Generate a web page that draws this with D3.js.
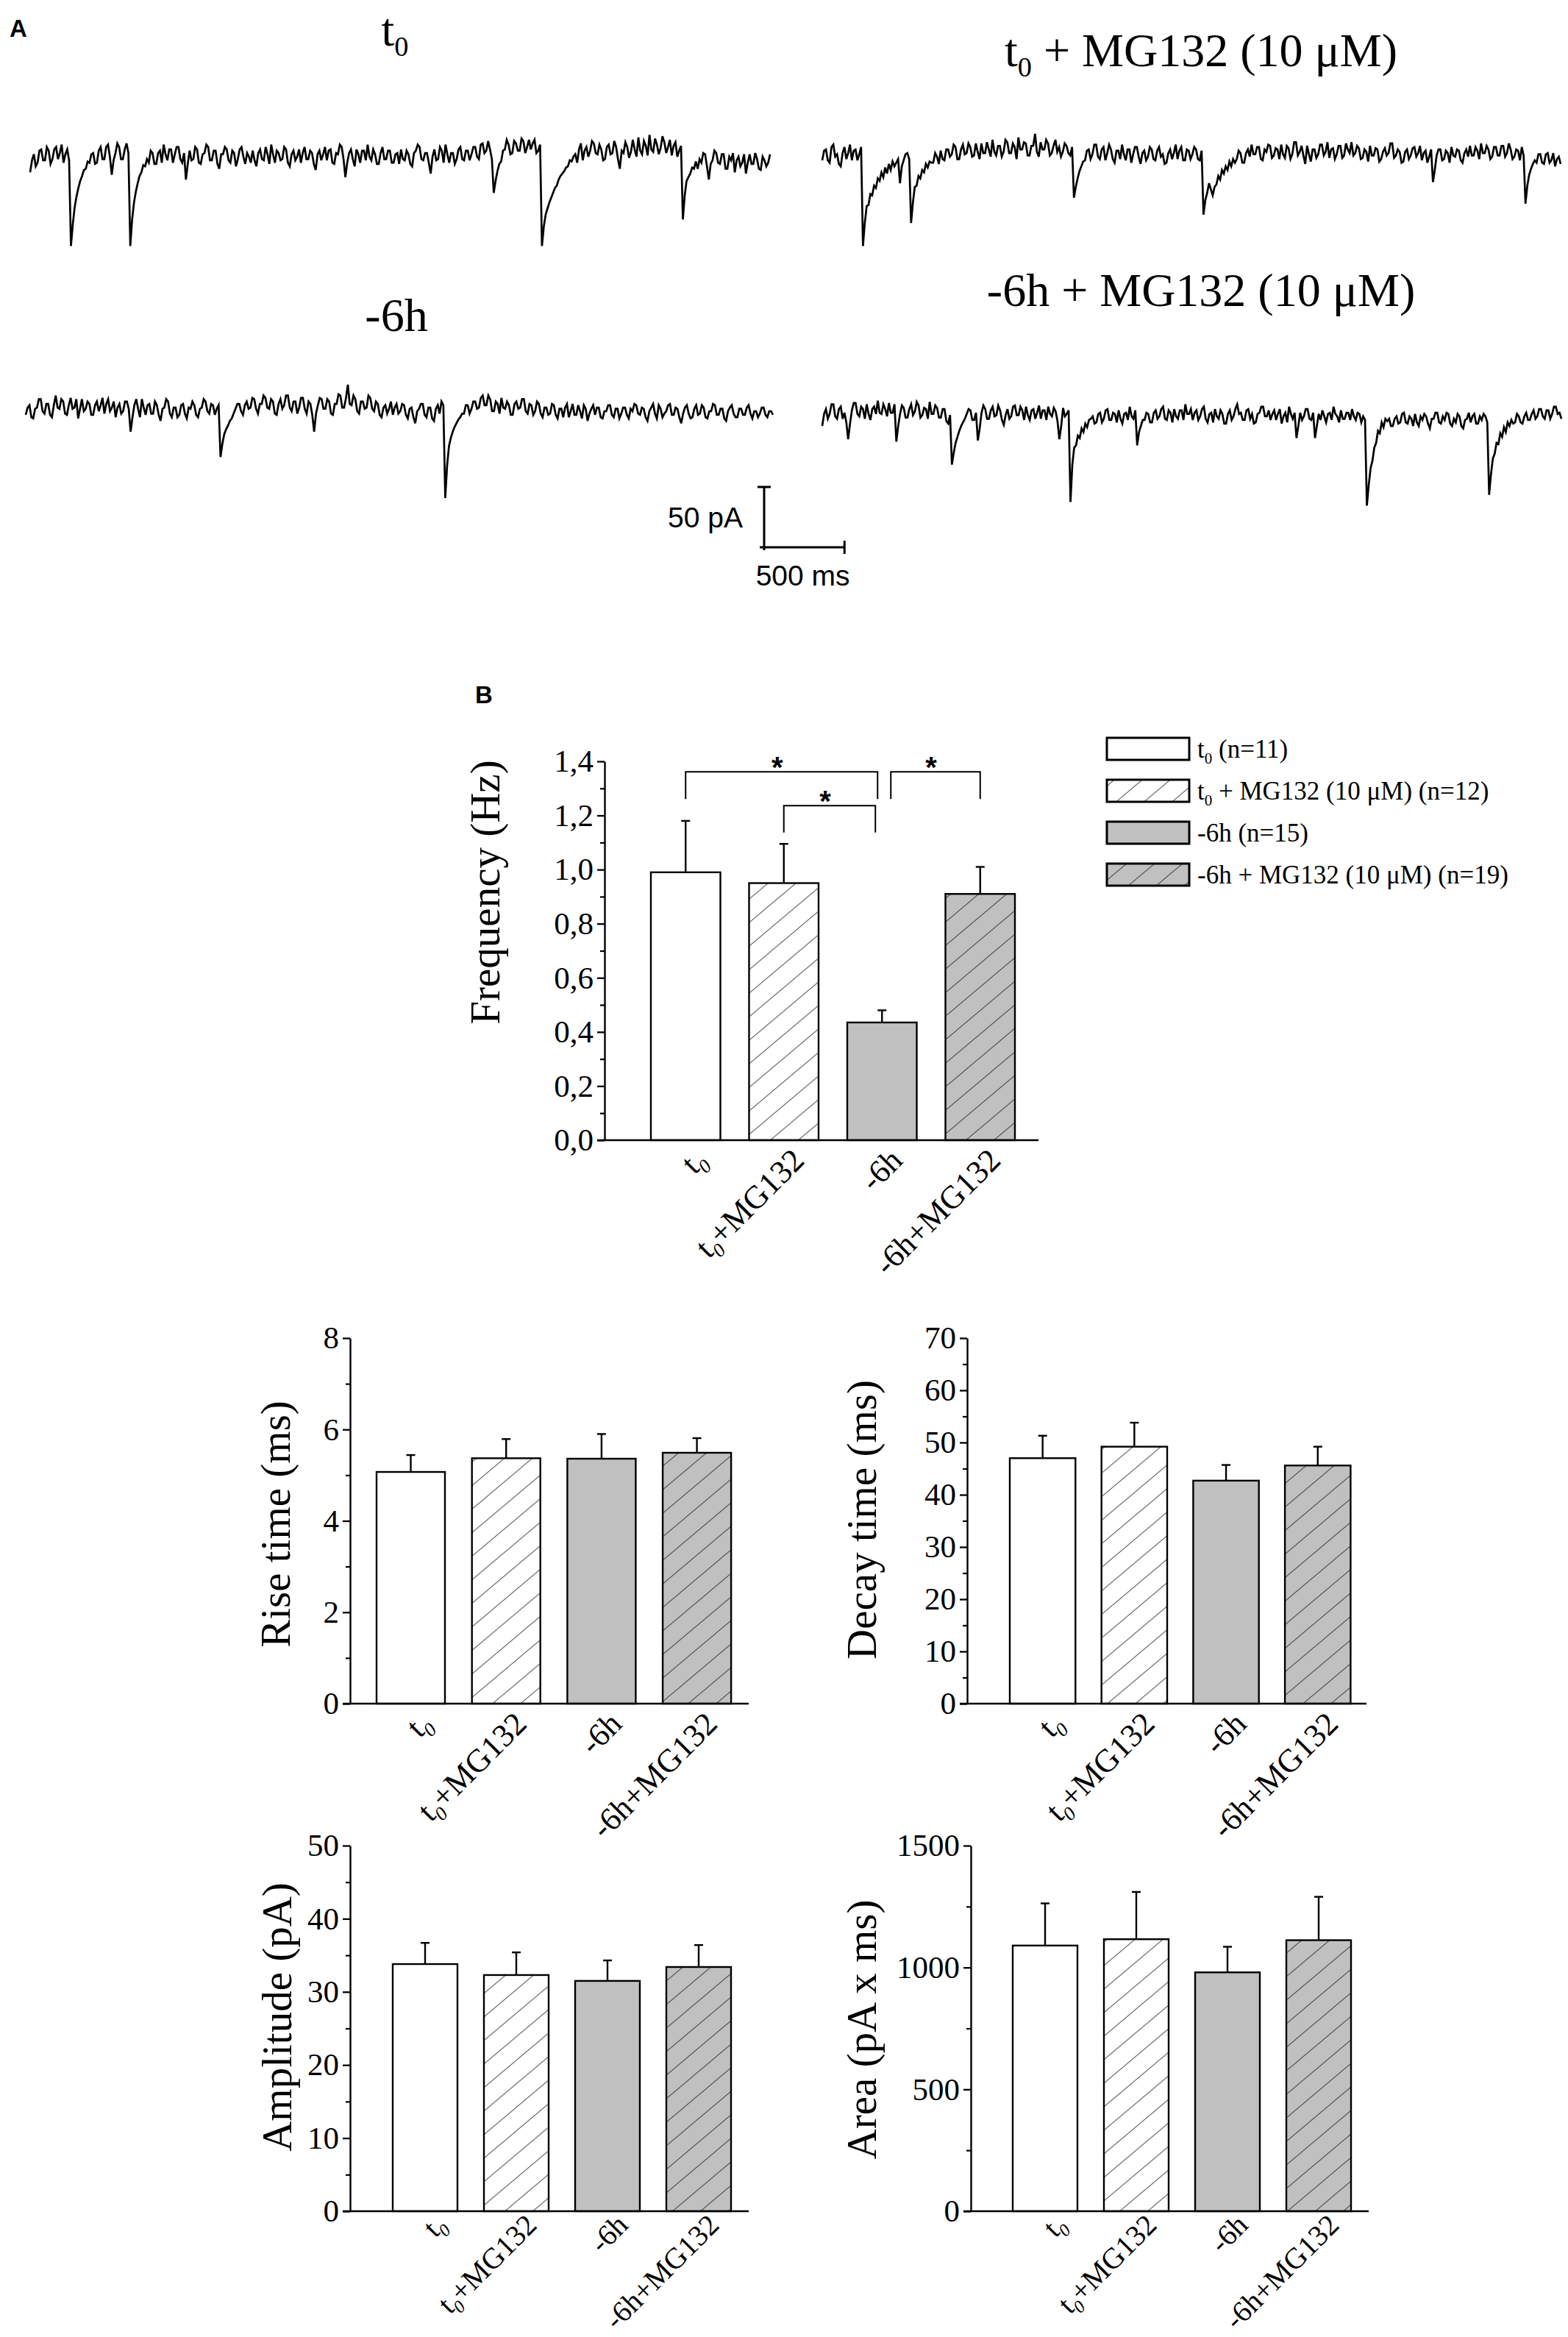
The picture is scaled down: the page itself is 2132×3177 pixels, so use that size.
<!DOCTYPE html>
<html><head><meta charset="utf-8">
<script src="https://cdn.jsdelivr.net/npm/d3@7"></script>
<style>html,body{margin:0;padding:0;background:#fff;} svg{display:block;}</style>
</head><body>
<svg id="fig" width="2132" height="3177"></svg>
<script>
// ---------- DATA ----------
const categories = ["t0", "t0+MG132", "-6h", "-6h+MG132"];
const legendLabels = ["t0 (n=11)", "t0 + MG132 (10 μM) (n=12)", "-6h (n=15)", "-6h + MG132 (10 μM) (n=19)"];
const traceTitles = ["t0", "t0 + MG132 (10 μM)", "-6h", "-6h + MG132 (10 μM)"];

const freqMean = [0.99, 0.95, 0.435, 0.91];
const freqSEM  = [0.19, 0.145, 0.045, 0.10];
const riseMean = [5.07, 5.37, 5.36, 5.49];
const riseSEM  = [0.37, 0.42, 0.54, 0.32];
const decayMean = [47.0, 49.2, 42.7, 45.6];
const decaySEM  = [4.3, 4.6, 3.0, 3.6];
const ampMean = [33.8, 32.3, 31.5, 33.4];
const ampSEM  = [2.9, 3.1, 2.8, 3.0];
const areaMean = [1090, 1116, 980, 1112];
const areaSEM  = [173, 194, 105, 178];

const freqTicks = [0, 0.2, 0.4, 0.6, 0.8, 1.0, 1.2, 1.4];
const freqMinor = [0.1, 0.3, 0.5, 0.7, 0.9, 1.1, 1.3];
const riseTicks = [0, 2, 4, 6, 8];
const riseMinor = [1, 3, 5, 7];
const decayTicks = [0, 10, 20, 30, 40, 50, 60, 70];
const decayMinor = [5, 15, 25, 35, 45, 55, 65];
const ampTicks = [0, 10, 20, 30, 40, 50];
const ampMinor = [5, 15, 25, 35, 45];
const areaTicks = [0, 500, 1000, 1500];
const areaMinor = [250, 750, 1250];

// significance brackets (frequency): from bar, to bar, bracket level, leg end level, label
const sigFrom  = [0, 1, 2];
const sigTo    = [2, 2, 3];
const sigLevel = [1.361, 1.236, 1.361];
const sigLeg   = [1.261, 1.137, 1.261];
const sigText  = ["*", "*", "*"];

// sEPSC traces (pA, relative to baseline), equally spaced samples over traceDurationMs
const traceDurationMs = 4650;
const scaleBarPA = 50, scaleBarMs = 500;
const traceT0 = [
 -13,-3,2,-8,-5,5,6,-3,-3,8,5,-6,-2,6,8,-2,3,10,-5,2,6,-3,-74,-56,-42,-33,-26,-20,-16,-11,-10,-4,-5,2,3,-6,-5,5,8,-2,
 -2,8,10,0,-15,-3,3,11,8,-2,-2,6,11,3,-74,-52,-38,-29,-22,-16,-13,-7,-8,-2,-5,5,3,-6,-6,3,5,-5,10,2,-3,6,6,-5,2,8,
 8,-2,-5,3,-19,-6,5,-3,-2,8,6,-5,-6,2,3,10,8,-3,-3,5,5,-6,-10,2,2,8,6,-3,-5,5,3,-8,-2,6,8,0,-6,3,0,-5,
 5,-3,-8,3,6,-2,-3,8,2,-6,10,2,-5,5,3,-3,-2,8,6,-5,-8,2,5,-3,0,6,-5,3,8,-2,-2,5,3,-6,-11,2,5,-3,2,8,
 -3,5,6,-5,-6,3,2,10,8,-2,-17,-5,3,6,-2,-8,6,2,-5,5,5,-3,10,0,-3,6,2,-6,-6,3,8,-2,-2,5,5,-5,-5,2,3,-6,
 6,-2,-3,5,2,-6,-8,3,5,10,8,-2,-3,3,3,-5,-14,0,6,-3,-2,8,5,-5,10,2,-5,3,3,-6,-2,6,8,-2,-3,5,5,-3,2,8,
 8,0,-2,10,11,3,5,13,6,-2,-30,-20,-12,-6,-4,5,6,14,10,2,3,13,11,5,5,15,13,3,8,14,6,11,14,3,5,10,-74,-58,-48,-43,
 -38,-34,-30,-26,-24,-19,-16,-14,-12,-9,-8,-3,-4,0,2,-5,6,11,-3,5,8,0,5,13,11,3,2,10,6,-3,-2,8,10,2,3,13,8,-2,-10,5,
 3,12,8,-1,4,14,6,0,16,5,2,13,9,1,18,6,4,15,10,2,7,17,12,3,8,14,1,9,12,0,5,9,-52,-32,-20,-17,-14,-9,-10,-4,
 -10,-2,-5,3,2,-8,-19,-6,-3,5,3,-5,-6,2,2,-10,-10,0,-3,3,-13,-3,0,-8,-5,2,-14,-5,2,-6,-6,3,-2,-10,-11,0,-3,-8,-5,2];
const traceT0MG = [
 -3,5,6,-3,-5,8,10,0,2,-6,-8,3,8,-2,3,10,-3,5,6,-3,2,8,-74,-55,-41,-40,-31,-32,-24,-26,-18,-20,-13,-17,-9,-14,-6,-11,-4,-8,
 -5,-2,-22,-8,-3,2,3,-2,-55,-38,-25,-24,-16,-18,-11,-13,-6,-9,-4,-5,-5,3,0,-6,5,-2,-3,6,6,0,2,10,8,-2,-2,6,10,2,3,11,
 8,0,1,11,4,-2,11,3,3,12,6,0,14,4,1,9,9,0,4,14,12,3,3,11,8,-2,16,6,6,12,11,1,1,9,9,19,4,0,12,6,
 6,14,11,1,3,9,14,4,8,0,4,11,9,3,1,8,-34,-25,-18,-12,-8,-4,-3,5,6,-2,2,10,10,0,-2,6,8,-3,3,10,6,-2,-5,5,
 5,-2,10,2,-3,6,6,-5,2,8,8,0,-6,3,5,-3,0,8,6,-2,-3,5,8,0,2,-6,-5,3,6,-2,3,10,-2,5,8,-3,-3,6,5,-2,
 2,8,6,-2,-3,5,-48,-36,-30,-22,-27,-32,-25,-23,-16,-19,-11,-14,-8,-11,-4,-8,-2,-5,-2,5,3,-5,-5,3,6,0,10,2,2,8,8,-2,-3,6,
 4,10,9,-1,1,7,6,-2,10,2,-1,9,7,-2,2,12,12,1,4,9,1,-6,9,2,-4,6,6,-1,2,10,10,1,4,12,-1,6,7,-2,2,9,
 9,-1,1,11,6,3,12,1,3,9,7,-2,-1,6,4,-4,9,1,1,7,6,-4,-2,4,7,1,3,11,11,-1,1,6,4,-5,-4,4,6,-2,1,7,
 8,0,3,9,-3,3,5,-5,0,6,-21,-11,1,6,6,-3,-2,5,3,-5,8,1,0,6,5,-3,-5,3,6,0,9,1,1,8,5,-2,11,3,3,9,
 6,-2,0,8,8,1,1,9,9,0,3,11,6,-2,0,6,5,-3,8,1,-39,-24,-15,-10,-6,-3,-5,2,2,-5,-6,2,3,-5,-3,3,-8,-2,0,-6];
const traceM6 = [
 -3,3,5,-5,-6,2,3,10,10,0,-2,6,6,-3,-5,5,13,3,2,10,8,-2,-3,5,11,2,3,10,-6,2,10,0,2,8,6,-3,-3,5,8,0,
 5,11,-2,6,10,0,3,8,-5,3,6,-2,0,8,8,2,-17,-5,5,10,2,-5,10,3,-3,5,6,-2,-2,8,5,-3,-8,2,3,10,8,-2,-5,3,
 3,-5,-3,5,6,-2,-6,3,2,8,5,-3,-5,2,3,10,8,0,-2,6,5,-3,2,5,-38,-27,-19,-15,-12,-8,-6,-2,2,6,6,0,-3,5,8,2,
 3,11,10,2,-2,6,6,13,11,3,2,10,8,-2,-3,6,10,2,5,13,13,3,0,8,8,-2,3,11,11,2,-2,8,6,-3,-17,-2,5,11,10,2,
 2,10,8,-2,-3,6,6,14,13,3,3,11,22,6,5,13,10,0,-2,8,8,2,3,13,11,2,0,8,6,-3,-5,3,5,-2,2,8,-3,3,6,-2,
 0,6,5,-3,-6,2,3,-5,-10,0,2,6,6,-3,-5,3,3,-6,-8,2,5,-2,8,5,-72,-45,-29,-22,-17,-13,-10,-7,-5,-2,-2,5,5,-2,2,8,
 8,2,3,11,13,5,5,13,10,0,0,8,6,-2,11,3,2,8,5,-3,-3,6,8,2,3,10,10,0,-2,6,5,-3,0,8,6,-2,-5,3,3,-3,
 -2,6,5,-3,-6,2,2,-5,3,6,-5,0,6,-3,-3,5,0,-6,5,2,-8,-2,2,5,-3,3,3,-5,-6,0,0,5,5,-3,-5,2,2,-6,-2,3,
 3,-3,-6,2,0,6,5,-2,-3,3,2,-5,-8,0,3,6,-2,-6,5,2,-5,-2,0,5,6,-3,-3,3,2,-5,-10,-2,3,5,-2,-6,-5,2,5,-3,
 -2,5,3,-5,-6,0,0,6,5,-3,-3,2,2,-6,-8,0,3,5,-2,-5,-5,2,2,-3,-3,3,5,-2,-6,0,0,-5,-2,3,3,-3,-5,0,0,-3];
const traceM6MG = [
 -8,2,6,-2,2,10,10,0,-2,6,8,-2,3,-5,-19,-6,5,11,11,2,0,8,6,-2,10,2,-3,6,8,2,13,3,2,10,6,0,11,3,3,10,
 -21,-8,2,9,7,-1,-1,6,10,1,4,12,9,-1,1,7,6,-2,12,2,2,9,7,-1,-1,6,6,-4,-6,1,-40,-30,-22,-17,-12,-8,-5,-2,2,6,
 5,-3,-3,3,-20,-10,3,9,6,-2,-2,5,8,0,1,9,5,-3,-7,1,6,-2,0,8,9,1,1,8,5,-3,8,1,-3,5,6,-2,3,9,-2,5,
 5,-3,8,2,0,7,4,-4,-19,-8,7,0,2,5,-71,-40,-26,-24,-16,-18,-10,-13,-6,-9,-3,-2,0,-6,-5,2,3,-5,-2,5,6,-3,-3,3,2,-5,
 5,-2,-6,2,3,-3,8,0,-2,5,-24,-13,-8,-3,-3,3,2,-5,-5,3,5,-2,0,6,8,-2,-3,5,3,-5,6,0,-2,5,5,-3,10,2,2,6,
 -3,3,5,-3,0,6,8,-2,-5,2,3,-5,6,0,-2,5,2,-6,-6,2,5,-3,0,6,10,2,3,-3,-3,5,6,-2,2,-6,-5,2,3,8,8,0,
 0,5,-3,2,5,-3,2,6,-6,0,3,-5,8,2,-2,3,-18,-8,3,-3,0,6,6,-2,-3,3,-18,-8,2,-3,5,0,-5,2,3,-3,8,2,0,-5,
 5,-2,-2,3,3,-3,6,0,-3,3,2,-5,0,-3,-74,-57,-43,-37,-26,-22,-12,-14,-5,-9,-2,-4,-2,-8,-8,-2,0,-6,-5,2,3,-5,-6,0,-2,-8,
 2,-5,-8,0,-3,2,0,-6,-10,-2,-2,3,3,-5,-6,0,-3,3,2,-6,-8,-2,-5,2,0,-8,-10,-3,-2,3,-5,0,2,-6,-6,0,-3,2,0,-5,
 -65,-48,-35,-31,-22,-23,-14,-17,-9,-13,-5,-8,-3,-6,-5,2,0,-5,-6,0,3,-3,-3,2,5,-2,0,6,6,0,-2,5,5,-2,2,8,8,2,3,-2];

// ---------- DRAWING ----------
const SERIF = "'Liberation Serif','Times New Roman',serif";
const SANS = "'Liberation Sans',Arial,sans-serif";
const svg = d3.select("#fig");
svg.append("rect").attr("width", 2132).attr("height", 3177).attr("fill", "#fff");

const defs = svg.append("defs");
function hatch(id, bg, stroke) {
  const w = 38, h = 32;
  const p = defs.append("pattern").attr("id", id).attr("patternUnits", "userSpaceOnUse")
    .attr("width", w).attr("height", h);
  p.append("rect").attr("width", w).attr("height", h).attr("fill", bg);
  p.append("path").attr("d", `M0,${h}L${w},0M${-w / 4},${h / 4}L${w / 4},${-h / 4}M${w * 3 / 4},${h * 5 / 4}L${w * 5 / 4},${h * 3 / 4}`)
    .attr("stroke", stroke).attr("stroke-width", 1.3).attr("fill", "none");
}
hatch("hatchW", "#ffffff", "#6e6e6e");
hatch("hatchG", "#c0c0c0", "#555555");
const fills = ["#ffffff", "url(#hatchW)", "#c0c0c0", "url(#hatchG)"];

// text with "t0" -> t + subscript 0
function richText(sel, text, fs, italicSub) {
  if (text.startsWith("t0")) {
    sel.append("tspan").text("t");
    sel.append("tspan").attr("font-size", fs * 0.6).attr("dy", fs * 0.22)
      .attr("font-style", italicSub ? "italic" : null).text("0");
    const rest = text.slice(2);
    if (rest.length) sel.append("tspan").attr("dy", -fs * 0.22).text(rest);
  } else sel.text(text);
}

// ----- Panel A -----
svg.append("text").attr("x", 13).attr("y", 50).attr("font-family", SANS).attr("font-weight", "bold")
  .attr("font-size", 33).text("A");

const traces = [traceT0, traceT0MG, traceM6, traceM6MG];
const traceBoxes = [
  {x0: 41, x1: 1047, base: 213, tx: 537, ty: 62},
  {x0: 1118, x1: 2122, base: 213, tx: 1633, ty: 90},
  {x0: 35, x1: 1051, base: 559, tx: 539, ty: 450},
  {x0: 1118, x1: 2123, base: 566, tx: 1633, ty: 416}
];
const pxPerPA = 1.64;
let refScales = null;
traces.forEach((tr, k) => {
  const b = traceBoxes[k];
  const tx = d3.scaleLinear().domain([0, traceDurationMs]).range([b.x0, b.x1]);
  const ty = d3.scaleLinear().domain([-50, 0]).range([b.base + 50 * pxPerPA, b.base]);
  const dt = traceDurationMs / (tr.length - 1);
  const line = d3.line().x((d, i) => tx(i * dt)).y(d => ty(d));
  svg.append("path").attr("d", line(tr)).attr("fill", "none").attr("stroke", "#000")
    .attr("stroke-width", 2.7).attr("stroke-linejoin", "miter");
  const t = svg.append("text").attr("x", b.tx).attr("y", b.ty).attr("text-anchor", "middle")
    .attr("font-family", SERIF).attr("font-size", 64);
  richText(t, traceTitles[k], 64, false);
  if (k === 2) refScales = {tx, ty};
});

// scale bar (uses the trace scales)
{
  const {tx, ty} = refScales;
  const sbx = 1039, sby = 744;
  const h = ty(-scaleBarPA) - ty(0);
  const w = tx(scaleBarMs) - tx(0);
  const g = svg.append("g").attr("stroke", "#000").attr("stroke-width", 3).attr("fill", "none");
  g.append("line").attr("x1", sbx).attr("x2", sbx).attr("y1", sby - h).attr("y2", sby + 4);
  g.append("line").attr("x1", sbx - 9).attr("x2", sbx + 9).attr("y1", sby - h).attr("y2", sby - h);
  g.append("line").attr("x1", sbx - 6).attr("x2", sbx + w).attr("y1", sby).attr("y2", sby);
  g.append("line").attr("x1", sbx + w).attr("x2", sbx + w).attr("y1", sby - 9).attr("y2", sby + 9);
  svg.append("text").attr("x", sbx - 29).attr("y", sby - h / 2 + 14).attr("text-anchor", "end")
    .attr("font-family", SANS).attr("font-size", 39).text(scaleBarPA + " pA");
  svg.append("text").attr("x", sbx + w / 2 - 2).attr("y", sby + 52).attr("text-anchor", "middle")
    .attr("font-family", SANS).attr("font-size", 39).text(scaleBarMs + " ms");
}

// ----- Panel B -----
svg.append("text").attr("x", 646).attr("y", 956).attr("font-family", SANS).attr("font-weight", "bold")
  .attr("font-size", 33).text("B");

const commaFmt = v => d3.format(".1f")(v).replace(".", ",");
function barChart(c) {
  const g = svg.append("g");
  const y = d3.scaleLinear().domain([0, c.yMax]).range([c.y0, c.yTop]);
  const pi = 1 - c.bw / c.step, po = pi / 2;
  const r0 = c.bandStart - po * c.step;
  const x = d3.scaleBand().domain(categories).range([r0, r0 + 4 * c.step]).paddingInner(pi).paddingOuter(po);

  g.selectAll("rect.bar").data(c.mean).join("rect").attr("class", "bar")
    .attr("x", (d, i) => x(categories[i])).attr("width", x.bandwidth())
    .attr("y", d => y(d)).attr("height", d => y(0) - y(d))
    .attr("fill", (d, i) => fills[i]).attr("stroke", "#000").attr("stroke-width", 2.4);
  const eg = g.append("g").attr("stroke", "#000").attr("stroke-width", 2.4);
  c.mean.forEach((m, i) => {
    const cx = x(categories[i]) + x.bandwidth() / 2;
    eg.append("line").attr("x1", cx).attr("x2", cx).attr("y1", y(m)).attr("y2", y(m + c.sem[i]));
    eg.append("line").attr("x1", cx - 6).attr("x2", cx + 6).attr("y1", y(m + c.sem[i])).attr("y2", y(m + c.sem[i]));
  });

  const ya = g.append("g").attr("transform", `translate(${c.axisX},0)`)
    .call(d3.axisLeft(y).tickValues(c.ticks).tickSize(10).tickSizeOuter(0).tickPadding(5).tickFormat(c.fmt));
  ya.attr("font-family", SERIF).attr("font-size", 43);
  ya.selectAll("line").attr("stroke-width", 2.3);
  ya.select(".domain").attr("stroke-width", 2.4);
  ya.selectAll("text").attr("fill", "#000");
  const ym = g.append("g").attr("transform", `translate(${c.axisX},0)`)
    .call(d3.axisLeft(y).tickValues(c.minor).tickSize(6).tickSizeOuter(0).tickFormat(""));
  ym.select(".domain").remove();
  ym.selectAll("line").attr("stroke-width", 2.2);

  const xa = g.append("g").attr("transform", `translate(0,${c.y0})`)
    .call(d3.axisBottom(x).tickSize(0).tickSizeOuter(0).tickFormat(""));
  xa.select(".domain").remove();
  g.append("line").attr("x1", c.axisX - 10).attr("x2", c.axisEnd).attr("y1", c.y0).attr("y2", c.y0)
    .attr("stroke", "#000").attr("stroke-width", 2.4);
  const lfs = c.labelFont || 44, ldy = c.labelDy || 30;
  xa.selectAll(".tick").each(function(d) {
    const t = d3.select(this).append("text")
      .attr("transform", `translate(30,${ldy}) rotate(-45)`)
      .attr("text-anchor", "end").attr("font-family", SERIF).attr("font-size", lfs).attr("fill", "#000");
    richText(t, d, lfs, true);
  });

  g.append("text").attr("transform", `translate(${c.labelX},${c.labelY}) rotate(-90)`)
    .attr("text-anchor", "middle").attr("dominant-baseline", "central")
    .attr("font-family", SERIF).attr("font-size", 57).text(c.label);
  return {x, y, g};
}

const freq = barChart({axisX: 822, y0: 1550, yTop: 1035, yMax: 1.4, bandStart: 885, step: 133.5, bw: 94.5,
  axisEnd: 1412, ticks: freqTicks, minor: freqMinor, fmt: commaFmt, mean: freqMean, sem: freqSEM,
  label: "Frequency (Hz)", labelX: 659, labelY: 1213});
barChart({axisX: 476, y0: 2316, yTop: 1819, yMax: 8, bandStart: 512, step: 129.7, bw: 93,
  axisEnd: 1018, ticks: riseTicks, minor: riseMinor, fmt: d3.format("d"), mean: riseMean, sem: riseSEM,
  label: "Rise time (ms)", labelX: 374, labelY: 2072});
barChart({axisX: 1315, y0: 2316, yTop: 1819, yMax: 70, bandStart: 1373, step: 124.7, bw: 89.3,
  axisEnd: 1858, ticks: decayTicks, minor: decayMinor, fmt: d3.format("d"), mean: decayMean, sem: decaySEM,
  label: "Decay time (ms)", labelX: 1171, labelY: 2066});
barChart({axisX: 476, y0: 3006, yTop: 2509, yMax: 50, bandStart: 534, step: 124, bw: 88,
  axisEnd: 1018, ticks: ampTicks, minor: ampMinor, fmt: d3.format("d"), mean: ampMean, sem: ampSEM,
  label: "Amplitude (pA)", labelX: 376, labelY: 2742, labelFont: 40, labelDy: 21});
barChart({axisX: 1320, y0: 3006, yTop: 2509, yMax: 1500, bandStart: 1377, step: 124, bw: 88,
  axisEnd: 1861, ticks: areaTicks, minor: areaMinor, fmt: d3.format("d"), mean: areaMean, sem: areaSEM,
  label: "Area (pA x ms)", labelX: 1171, labelY: 2759, labelFont: 40, labelDy: 21});

// significance brackets
{
  const {x, y, g} = freq;
  const cx = i => x(categories[i]) + x.bandwidth() / 2;
  const offL = [0, 0, 12], offR = [-6, -9, 0];
  sigFrom.forEach((f, k) => {
    const xl = cx(f) + offL[k], xr = cx(sigTo[k]) + offR[k];
    g.append("path").attr("d", `M${xl},${y(sigLeg[k])}V${y(sigLevel[k])}H${xr}V${y(sigLeg[k])}`)
      .attr("fill", "none").attr("stroke", "#000").attr("stroke-width", 2);
    g.append("text").attr("x", (xl + xr) / 2 - 6).attr("y", y(sigLevel[k]) + 8).attr("text-anchor", "middle")
      .attr("font-family", SANS).attr("font-weight", "bold").attr("font-size", 40).text(sigText[k]);
  });
}

// legend
{
  const lx = 1505, lw = 112, lh = 30, ly0 = 1018, dy = 57;
  legendLabels.forEach((lab, i) => {
    const cy = ly0 + i * dy;
    svg.append("rect").attr("x", lx).attr("y", cy - lh / 2).attr("width", lw).attr("height", lh)
      .attr("fill", fills[i]).attr("stroke", "#000").attr("stroke-width", 3);
    const t = svg.append("text").attr("x", lx + lw + 11).attr("y", cy + 12)
      .attr("font-family", SERIF).attr("font-size", 35);
    richText(t, lab, 35, false);
  });
}
</script>
</body></html>
